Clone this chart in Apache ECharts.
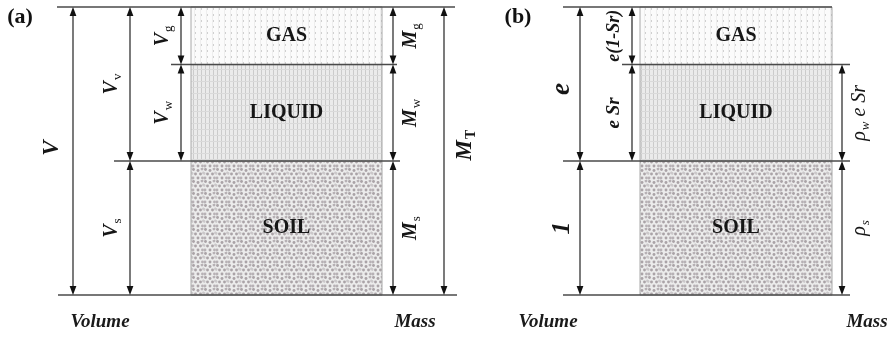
<!DOCTYPE html>
<html><head><meta charset="utf-8">
<script src="https://cdn.jsdelivr.net/npm/echarts@6/dist/echarts.min.js"></script>
<style>html,body{margin:0;padding:0;background:#fff}#c{width:894px;height:337px}</style>
</head><body><div id="c"></div>
<script>
// ---------------- data ----------------
const phases = ['SOIL', 'LIQUID', 'GAS'];
const phaseVolumes = [1.00, 0.72, 0.43];          // relative volumes (soil = 1, e = 1.15)
const volumeLabelsA = ['V_s', 'V_w', 'V_g'];
const massLabelsA = ['M_s', 'M_w', 'M_g'];
const voidLabelA = 'V_v';
const totalLabelsA = ['V', 'M_T'];
const volumeLabelsB = ['1', 'e Sr', 'e(1-Sr)'];
const massLabelsB = ['ρ_s', 'ρ_w e Sr', ''];
const voidLabelB = 'e';
const axisTitles = ['Volume', 'Mass'];
const panelTitles = ['(a)', '(b)'];

// ---------------- layout (screen-space x units) ----------------
const SERIF = '"Liberation Serif", "Times New Roman", serif';
const F = (s, w, i) => (i ? 'italic ' : '') + (w ? 'bold ' : '') + s + 'px ' + SERIF;
const panels = [
  { title: panelTitles[0], titleX: 20, boxL: 191, boxR: 382,
    lineL: [58, 114, 171, 57], lineR: [457, 400, 397, 455],
    volTotalX: 73, volGroupX: 130, volPhaseX: [130, 181, 181], massX: 393, massTotalX: 444,
    volLabels: volumeLabelsA, massLabels: massLabelsA, voidLabel: voidLabelA, totals: totalLabelsA,
    volTitleX: 100, massTitleX: 415, voidDy: 0,
    volFont: [F(20, 1, 1), F(20, 1, 1), F(20, 1, 1)], voidFont: F(20, 1, 1), totalFont: F(23, 1, 1),
    massFont: F(20, 1, 1), subFont: F(13, 0, 0) },
  { title: panelTitles[1], titleX: 518, boxL: 640, boxR: 832,
    lineL: [563, 563, 622, 563], lineR: [850, 850, 850, 832],
    volTotalX: null, volGroupX: 580, volPhaseX: [580, 632, 632], massX: 842, massTotalX: null,
    volLabels: volumeLabelsB, massLabels: massLabelsB, voidLabel: voidLabelB, totals: null,
    volTitleX: 548, massTitleX: 867, voidDy: 5,
    volFont: [F(26, 1, 1), F(19, 1, 1), F(18, 1, 1)], voidFont: F(27, 1, 1), totalFont: F(23, 1, 1),
    massFont: F(20, 0, 1), subFont: F(13, 0, 1) }
];

// ---------------- patterns ----------------
function tile(w, h, draw) { const c = document.createElement('canvas'); c.width = w; c.height = h; const g = c.getContext('2d'); draw(g); return c; }
const patGas = tile(6, 6, g => { g.fillStyle = '#fbfbfb'; g.fillRect(0, 0, 6, 6); g.fillStyle = '#d0d0d0'; g.fillRect(2, 2, 2, 2); g.fillStyle = '#eeeeee'; g.fillRect(2, 0, 1, 6); });
const patLiq = tile(4, 6, g => { g.fillStyle = '#ebebeb'; g.fillRect(0, 0, 4, 6); g.fillStyle = '#cbcbcb'; g.fillRect(1, 0, 1, 6); g.fillStyle = '#dadada'; g.fillRect(0, 3, 4, 1); });
const patSoil = tile(12, 12, g => { g.fillStyle = '#ececec'; g.fillRect(0, 0, 12, 12); g.fillStyle = '#aaa3a7';
  [[1.5, 1.5, 1], [6, 2.5, 1], [10, 1, 0.8], [3.5, 6, 1], [8.5, 6, 1], [1, 10, 0.8], [6, 10, 1], [10.5, 10, 0.8], [11.5, 5, 0.5], [0, 5.5, 0.5]]
    .forEach(([x, y, a]) => { g.globalAlpha = a; g.beginPath(); g.arc(x, y, 1.45, 0, 7); g.fill(); }); });
const patterns = [patSoil, patLiq, patGas];

// ---------------- build marks ----------------
const bounds = [0];
phaseVolumes.forEach((v, i) => bounds.push(bounds[i] + v));
const total = bounds[bounds.length - 1];
const marks = [];
panels.forEach(p => {
  phases.forEach((name, i) => marks.push({ t: 'rect', x0: p.boxL, x1: p.boxR, y0: bounds[i], y1: bounds[i + 1], fill: patterns[i] }));
  bounds.forEach((b, k) => marks.push({ t: 'hline', x0: p.lineL[k], x1: p.lineR[k], y: b }));
  if (p.volTotalX != null) {
    marks.push({ t: 'arrow', x: p.volTotalX, y0: 0, y1: total });
    marks.push({ t: 'label', x: p.volTotalX, dx: -21, dy: -3, y: total / 2, s: p.totals[0], font: p.totalFont, sub: p.subFont, rot: true });
  }
  marks.push({ t: 'arrow', x: p.volGroupX, y0: bounds[1], y1: total });
  marks.push({ t: 'label', x: p.volGroupX, dx: -18, dy: p.voidDy, y: (bounds[1] + total) / 2, s: p.voidLabel, font: p.voidFont, sub: p.subFont, rot: true });
  phases.forEach((name, i) => {
    const ym = (bounds[i] + bounds[i + 1]) / 2;
    marks.push({ t: 'arrow', x: p.volPhaseX[i], y0: bounds[i], y1: bounds[i + 1] });
    marks.push({ t: 'label', x: p.volPhaseX[i], dx: -18, dy: 0, y: ym, s: p.volLabels[i], font: p.volFont[i], sub: p.subFont, rot: true });
    if (p.massLabels[i]) {
      marks.push({ t: 'arrow', x: p.massX, y0: bounds[i], y1: bounds[i + 1] });
      marks.push({ t: 'label', x: p.massX, dx: 18, dy: 0, y: ym, s: p.massLabels[i], font: p.massFont, sub: p.subFont, rot: true });
    }
    marks.push({ t: 'label', x: (p.boxL + p.boxR) / 2, dx: 0, dy: 0, y: ym, s: name, font: F(20, 1, 0), rot: false });
  });
  if (p.massTotalX != null) {
    marks.push({ t: 'arrow', x: p.massTotalX, y0: 0, y1: total });
    marks.push({ t: 'label', x: p.massTotalX, dx: 21, dy: -6, y: total / 2, s: p.totals[1], font: p.totalFont, sub: F(14, 1, 0), rot: true });
  }
});

// ---------------- rendering ----------------
const mctx = document.createElement('canvas').getContext('2d');
function measure(t, font) { mctx.font = font; return mctx.measureText(t).width; }
function labelChildren(m) {
  const parts = []; const re = /_(.)/g; let last = 0, r;
  while ((r = re.exec(m.s))) { if (r.index > last) parts.push({ t: m.s.slice(last, r.index), sub: false }); parts.push({ t: r[1], sub: true }); last = re.lastIndex; }
  if (last < m.s.length) parts.push({ t: m.s.slice(last), sub: false });
  parts.forEach(q => { q.font = q.sub ? m.sub : m.font; q.w = measure(q.t, q.font) + (q.sub ? 1 : 0); });
  const W = parts.reduce((a, q) => a + q.w, 0);
  let x = -W / 2;
  return parts.map(q => { const el = { type: 'text', x: x + (q.sub ? 1 : 0), y: q.sub ? 6 : 0, style: { text: q.t, font: q.font, fill: '#161616', align: 'left', verticalAlign: 'middle' } }; x += q.w; return el; });
}
function renderItem(params, api) {
  const m = marks[api.value(0)];
  if (m.t === 'rect') {
    const a = api.coord([m.x0, m.y1]), b = api.coord([m.x1, m.y0]);
    return { type: 'rect', shape: { x: a[0], y: a[1], width: b[0] - a[0], height: b[1] - a[1] }, style: { fill: { image: m.fill, repeat: 'repeat' }, stroke: '#a8a8a8', lineWidth: 1 } };
  }
  if (m.t === 'hline') {
    const a = api.coord([m.x0, m.y]), b = api.coord([m.x1, m.y]);
    return { type: 'line', shape: { x1: a[0], y1: a[1], x2: b[0], y2: b[1] }, style: { stroke: '#4a4a4a', lineWidth: 1.5 } };
  }
  if (m.t === 'arrow') {
    const a = api.coord([m.x, m.y1]), b = api.coord([m.x, m.y0]);
    const L = 9, H = 3.4, x = a[0];
    return { type: 'group', children: [
      { type: 'line', shape: { x1: x, y1: a[1] + 4, x2: x, y2: b[1] - 4 }, style: { stroke: '#222', lineWidth: 1.2 } },
      { type: 'polygon', shape: { points: [[x, a[1]], [x - H, a[1] + L], [x + H, a[1] + L]] }, style: { fill: '#111' } },
      { type: 'polygon', shape: { points: [[x, b[1]], [x - H, b[1] - L], [x + H, b[1] - L]] }, style: { fill: '#111' } }
    ] };
  }
  if (m.t === 'label') {
    const c = api.coord([m.x, m.y]);
    return { type: 'group', x: c[0] + m.dx, y: c[1] + m.dy, rotation: m.rot ? Math.PI / 2 : 0, children: labelChildren(m) };
  }
  return null;
}

const chart = echarts.init(document.getElementById('c'), null, { renderer: 'canvas' });
const graphics = [];
panels.forEach(p => {
  graphics.push({ type: 'text', x: p.titleX, y: 17, style: { text: p.title, font: F(22, 1, 0), fill: '#111', align: 'center', verticalAlign: 'middle' } });
  graphics.push({ type: 'text', x: p.volTitleX, y: 322, style: { text: axisTitles[0], font: F(19, 1, 1), fill: '#1a1a1a', align: 'center', verticalAlign: 'middle' } });
  graphics.push({ type: 'text', x: p.massTitleX, y: 322, style: { text: axisTitles[1], font: F(19, 1, 1), fill: '#1a1a1a', align: 'center', verticalAlign: 'middle' } });
});
chart.setOption({
  animation: false,
  grid: { left: 0, right: 0, top: 7, bottom: 42 },
  xAxis: { type: 'value', min: 0, max: 894, show: false },
  yAxis: { type: 'value', min: 0, max: total, show: false },
  graphic: graphics,
  series: [{ type: 'custom', renderItem, data: marks.map((m, i) => [i]), clip: false, silent: true }]
});
</script></body></html>
